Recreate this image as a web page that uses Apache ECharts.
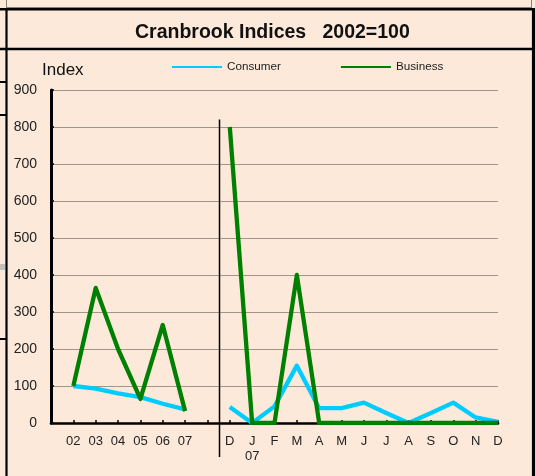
<!DOCTYPE html>
<html>
<head>
<meta charset="utf-8">
<script src="https://cdn.jsdelivr.net/npm/echarts@6/dist/echarts.min.js"></script>
<style>
  html, body { margin: 0; padding: 0; background: #fde9da; }
  #chart { width: 535px; height: 476px; }
</style>
</head>
<body>
<div id="chart"></div>
<script>
// Annual points (02-07), a spacer, then monthly points Dec 06 - Dec 07
const categories = ['', '02', '03', '04', '05', '06', '07', '', 'D', 'J\n07', 'F', 'M', 'A', 'M', 'J', 'J', 'A', 'S', 'O', 'N', 'D'];
const consumer = [null, 100, 93, 80, 70, 52, 37, null, 43, 0, 45, 155, 40, 40, 55, 27, 0, 27, 55, 15, 3];
const business = [null, 100, 365, 200, 65, 265, 32, null, 800, 0, 0, 400, 0, 0, 0, 0, 0, 0, 0, 0, 0];
const yTicks = { min: 0, max: 900, step: 100 };

const FONT = '"Liberation Sans", Arial, sans-serif';
const BG = '#fde9da';
const chart = echarts.init(document.getElementById('chart'), null, { renderer: 'canvas' });

// Sheet borders around the chart object
const frame = [
  { type: 'line', shape: { x1: 6.5, y1: 0, x2: 6.5, y2: 8 }, style: { stroke: '#8a8078', lineWidth: 1 } },
  { type: 'line', shape: { x1: 531.5, y1: 0, x2: 531.5, y2: 8 }, style: { stroke: '#8a8078', lineWidth: 1 } },
  { type: 'line', shape: { x1: 6, y1: 7.5, x2: 532, y2: 7.5 }, style: { stroke: '#8a8078', lineWidth: 1 } },
  { type: 'line', shape: { x1: 0, y1: 9.3, x2: 535, y2: 9.3 }, style: { stroke: '#000', lineWidth: 2.6 } },
  { type: 'line', shape: { x1: 0, y1: 49, x2: 535, y2: 49 }, style: { stroke: '#000', lineWidth: 2.6 } },
  { type: 'line', shape: { x1: 6.5, y1: 8, x2: 6.5, y2: 476 }, style: { stroke: '#000', lineWidth: 2.2 } },
  { type: 'line', shape: { x1: 533.5, y1: 8, x2: 533.5, y2: 476 }, style: { stroke: '#000', lineWidth: 3.2 } },
  { type: 'line', shape: { x1: 0, y1: 82, x2: 6, y2: 82 }, style: { stroke: '#000', lineWidth: 2 } },
  { type: 'line', shape: { x1: 0, y1: 115, x2: 6, y2: 115 }, style: { stroke: '#000', lineWidth: 2 } },
  { type: 'line', shape: { x1: 0, y1: 339, x2: 6, y2: 339 }, style: { stroke: '#000', lineWidth: 2 } },
  { type: 'rect', shape: { x: 0, y: 264, width: 5, height: 6 }, style: { fill: '#c4c0bc' } }
];
const indexLabel = { type: 'text', left: 42, top: 62, style: { text: 'Index', font: '17px ' + FONT, fill: '#111' } };

chart.setOption({
  backgroundColor: BG,
  animation: false,
  title: {
    text: 'Cranbrook Indices   2002=100',
    left: 130,
    top: 18,
    textStyle: { fontFamily: FONT, fontSize: 19.5, fontWeight: 'bold', color: '#111' }
  },
  legend: {
    left: 172,
    top: 61,
    padding: 0,
    itemWidth: 50,
    itemHeight: 12,
    itemGap: 60,
    textStyle: { fontFamily: FONT, fontSize: 11.7, color: '#222' },
    data: [
      { name: 'Consumer', icon: 'path://M0,5 L50,5 L50,7 L0,7 Z', itemStyle: { color: '#00ccff' } },
      { name: 'Business', icon: 'path://M0,5 L50,5 L50,7 L0,7 Z', itemStyle: { color: '#008000' } }
    ]
  },
  grid: { left: 51, right: 37, top: 90, bottom: 53 },
  xAxis: {
    type: 'category',
    data: categories,
    boundaryGap: false,
    axisLine: { lineStyle: { color: '#000', width: 2.6 } },
    axisTick: { inside: true, length: 3, interval: 0, lineStyle: { color: '#000', width: 1.5 } },
    axisLabel: { interval: 0, margin: 11, fontFamily: FONT, fontSize: 13, color: '#222', lineHeight: 15 },
    splitLine: { show: false }
  },
  yAxis: {
    type: 'value',
    min: yTicks.min,
    max: yTicks.max,
    interval: yTicks.step,
    axisLine: { show: true, lineStyle: { color: '#000', width: 3 } },
    axisTick: { show: true, inside: true, length: 3, lineStyle: { color: '#000', width: 1.5 } },
    axisLabel: { margin: 14, fontFamily: FONT, fontSize: 14, color: '#222' },
    splitLine: { lineStyle: { color: '#a39689', width: 1 } }
  },
  series: [
    {
      name: 'Consumer', type: 'line', data: consumer, showSymbol: false, symbol: 'none',
      connectNulls: false, lineStyle: { color: '#00ccff', width: 4.3, join: 'round' }, itemStyle: { color: '#00ccff' }, z: 3
    },
    {
      name: 'Business', type: 'line', data: business, showSymbol: false, symbol: 'none',
      connectNulls: false, lineStyle: { color: '#008000', width: 4.3, join: 'round' }, itemStyle: { color: '#008000' }, z: 4
    }
  ],
  graphic: frame.concat([indexLabel])
});

// Divider between the annual and the monthly part, placed halfway between the spacer and Dec
const a = chart.convertToPixel({ xAxisIndex: 0 }, 7);
const b = chart.convertToPixel({ xAxisIndex: 0 }, 8);
const yTop = chart.convertToPixel({ yAxisIndex: 0 }, 820);
const yZero = chart.convertToPixel({ yAxisIndex: 0 }, 0);
const xDiv = Math.round((a + b) / 2) + 0.5;
chart.setOption({
  graphic: frame.concat([
    indexLabel,
    { type: 'line', shape: { x1: xDiv, y1: yTop, x2: xDiv, y2: yZero + 34 }, style: { stroke: '#000', lineWidth: 1.5 }, z: 10 }
  ])
});
</script>
</body>
</html>
